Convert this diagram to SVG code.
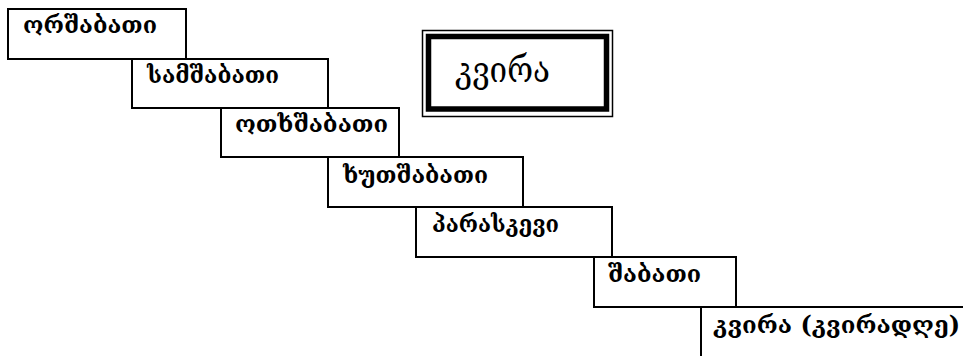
<svg xmlns="http://www.w3.org/2000/svg" width="963" height="356" viewBox="0 0 963 356">
<style>
.box{fill:#fff;stroke:#000;stroke-width:2}
.t{font-family:"DejaVu Serif",serif;font-size:24px;font-weight:bold;fill:#000}
.big{font-family:"DejaVu Serif",serif;font-size:36px;fill:#000}
</style>
<rect width="963" height="356" fill="#fff"/>
<g id="n1"><rect class="box" x="8" y="9" width="178" height="50"/><text class="t" x="23" y="33" textLength="134" lengthAdjust="spacingAndGlyphs">ორშაბათი</text></g>
<g id="n2"><rect class="box" x="132" y="59" width="196" height="49"/><text class="t" x="147" y="83" textLength="132" lengthAdjust="spacingAndGlyphs">სამშაბათი</text></g>
<g id="n3"><rect class="box" x="221" y="108" width="178" height="49"/><text class="t" x="235" y="132" textLength="153" lengthAdjust="spacingAndGlyphs">ოთხშაბათი</text></g>
<g id="n4"><rect class="box" x="328" y="157" width="195" height="50"/><text class="t" x="343" y="183" textLength="145" lengthAdjust="spacingAndGlyphs">ხუთშაბათი</text></g>
<g id="n5"><rect class="box" x="416" y="207" width="196" height="50"/><text class="t" x="432" y="232" textLength="127" lengthAdjust="spacingAndGlyphs">პარასკევი</text></g>
<g id="n6"><rect class="box" x="594" y="257" width="142" height="50"/><text class="t" x="608" y="282" textLength="93" lengthAdjust="spacingAndGlyphs">შაბათი</text></g>
<g id="n7"><rect class="box" x="701" y="307" width="280" height="70"/><text class="t" x="713" y="333" textLength="247" lengthAdjust="spacingAndGlyphs">კვირა (კვირადღე)</text></g>
<g id="kvira">
<rect x="422.5" y="30.5" width="190" height="86" fill="#fff" stroke="#000" stroke-width="1.5"/>
<rect x="428.5" y="36.5" width="178" height="72.5" fill="none" stroke="#000" stroke-width="5.5"/>
<text class="big" x="455" y="82" textLength="95" lengthAdjust="spacingAndGlyphs">კვირა</text>
</g>
<g id="connectors"></g>
</svg>
